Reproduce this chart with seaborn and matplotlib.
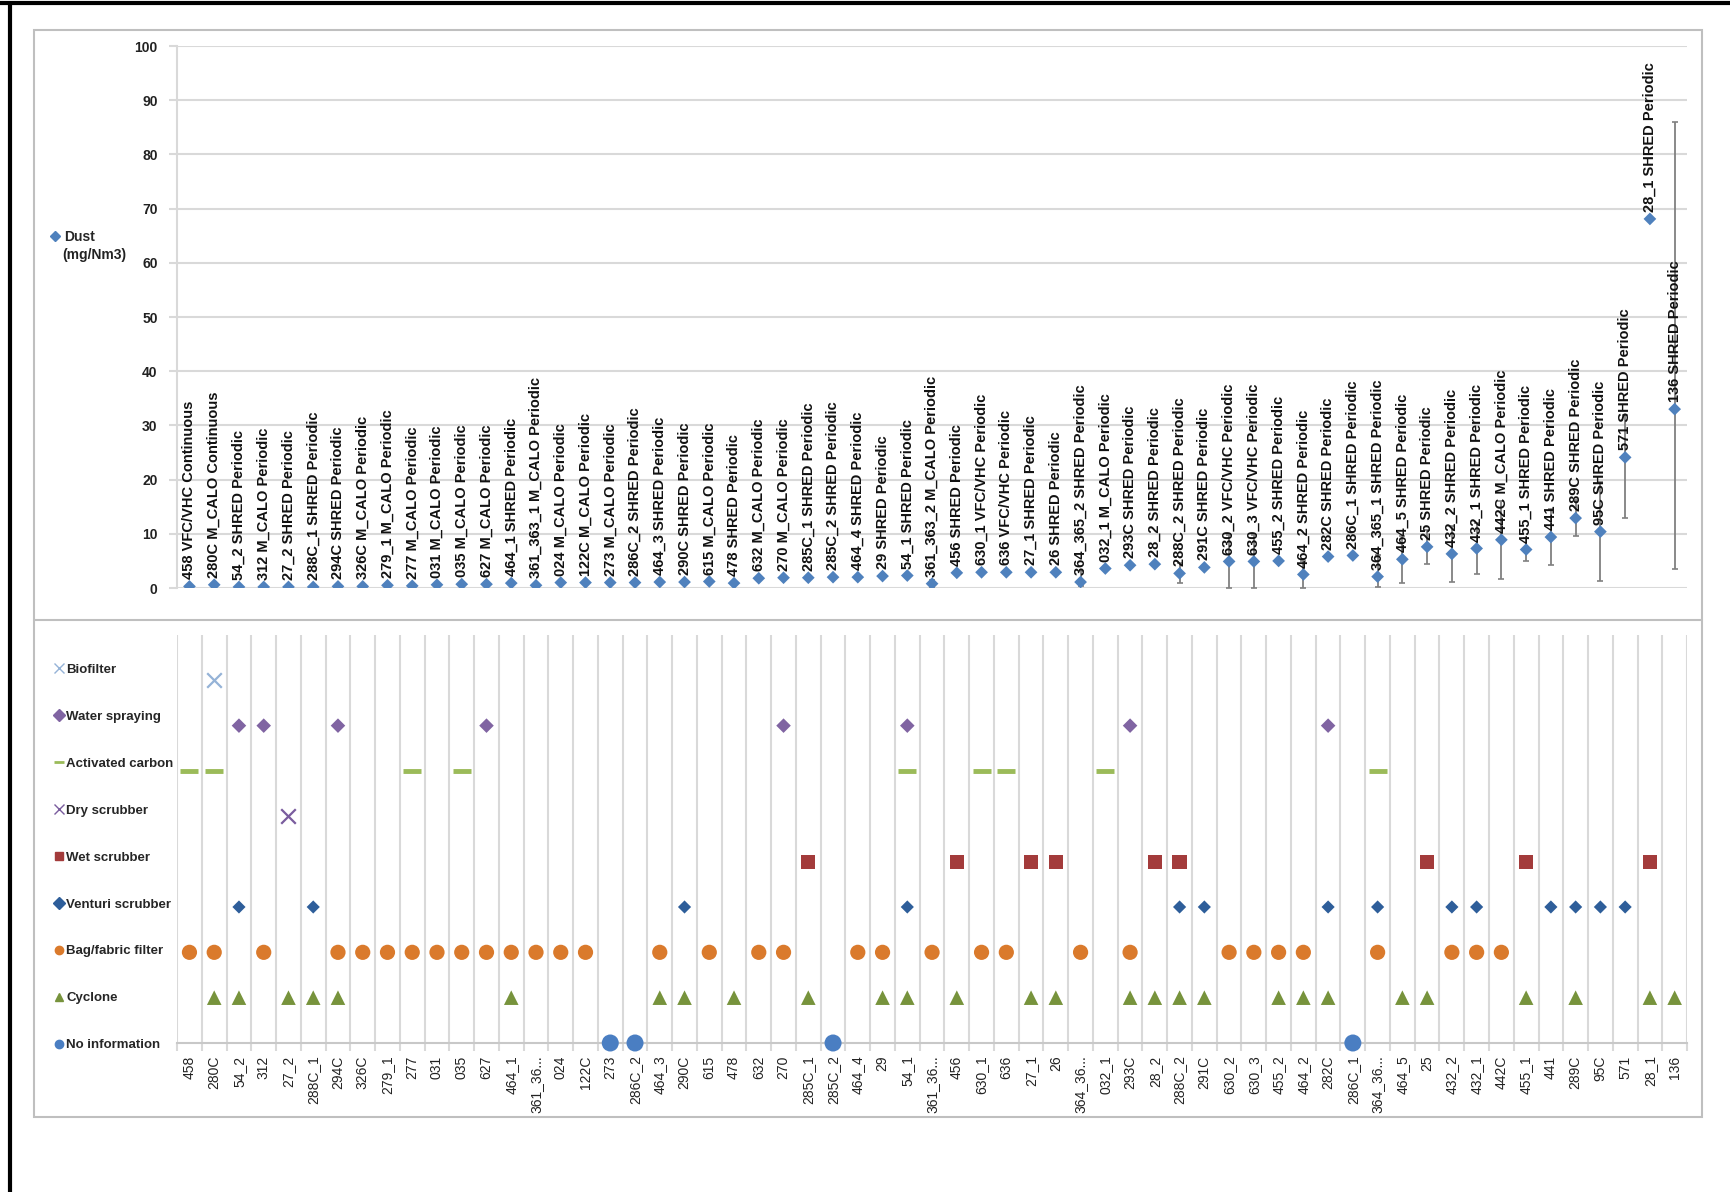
import numpy as np
import pandas as pd
import seaborn as sns
import matplotlib.pyplot as plt
from matplotlib.lines import Line2D
from matplotlib.patches import Rectangle

# ---- data ----
sites = ['458', '280C', '54_2', '312', '27_2', '288C_1', '294C', '326C', '279_1', '277',
         '031', '035', '627', '464_1', '361_363_1', '024', '122C', '273', '286C_2', '464_3',
         '290C', '615', '478', '632', '270', '285C_1', '285C_2', '464_4', '29', '54_1',
         '361_363_2', '456', '630_1', '636', '27_1', '26', '364_365_2', '032_1', '293C', '28_2',
         '288C_2', '291C', '630_2', '630_3', '455_2', '464_2', '282C', '286C_1', '364_365_1', '464_5',
         '25', '432_2', '432_1', '442C', '455_1', '441', '289C', '95C', '571', '28_1', '136']
processes = ['VFC/VHC', 'M_CALO', 'SHRED', 'M_CALO', 'SHRED', 'SHRED', 'SHRED', 'M_CALO', 'M_CALO', 'M_CALO',
             'M_CALO', 'M_CALO', 'M_CALO', 'SHRED', 'M_CALO', 'M_CALO', 'M_CALO', 'M_CALO', 'SHRED', 'SHRED',
             'SHRED', 'M_CALO', 'SHRED', 'M_CALO', 'M_CALO', 'SHRED', 'SHRED', 'SHRED', 'SHRED', 'SHRED',
             'M_CALO', 'SHRED', 'VFC/VHC', 'VFC/VHC', 'SHRED', 'SHRED', 'SHRED', 'M_CALO', 'SHRED', 'SHRED',
             'SHRED', 'SHRED', 'VFC/VHC', 'VFC/VHC', 'SHRED', 'SHRED', 'SHRED', 'SHRED', 'SHRED', 'SHRED',
             'SHRED', 'SHRED', 'SHRED', 'M_CALO', 'SHRED', 'SHRED', 'SHRED', 'SHRED', 'SHRED', 'SHRED', 'SHRED']
modes = ['Continuous', 'Continuous'] + ['Periodic'] * 59
tick_labels = [s if len(s) <= 7 else s[:6] + '...' for s in sites]

dust = [0.3, 0.6, 0.2, 0.2, 0.2, 0.2, 0.3, 0.3, 0.5, 0.4,
        0.6, 0.7, 0.7, 0.9, 0.5, 1.0, 1.0, 1.0, 1.0, 1.1,
        1.1, 1.2, 0.9, 1.8, 1.9, 1.9, 2.0, 2.0, 2.2, 2.3,
        0.8, 2.8, 2.9, 2.9, 2.9, 2.9, 1.1, 3.6, 4.2, 4.4,
        2.7, 3.8, 4.9, 4.9, 5.0, 2.5, 5.8, 6.0, 2.1, 5.3,
        7.6, 6.3, 7.3, 8.9, 7.1, 9.4, 12.9, 10.4, 24.1, 68.1, 33.0]
nan = np.nan
dust_min = [nan] * 30 + [0.2, nan, nan, nan, nan, nan, 0.4, nan, nan, nan,
                         1.0, nan, 0.0, 0.0, nan, 0.0, nan, nan, 0.1, 1.0,
                         4.5, 1.2, 2.6, 1.7, 5.0, 4.3, 9.6, 1.3, 12.9, nan, 3.6]
dust_max = [nan] * 30 + [1.5, nan, nan, nan, nan, nan, 3.2, nan, nan, nan,
                         4.6, nan, 9.8, 9.8, nan, 5.0, nan, nan, 6.0, 9.6,
                         10.7, 11.4, 12.0, 16.1, 9.2, 14.5, 16.2, 19.5, 32.0, nan, 86.0]

biofilter = ['280C']
water_spraying = ['54_2', '312', '294C', '627', '270', '54_1', '293C', '282C']
activated_carbon = ['458', '280C', '277', '035', '54_1', '630_1', '636', '032_1', '364_365_1']
dry_scrubber = ['27_2']
wet_scrubber = ['285C_1', '456', '27_1', '26', '28_2', '288C_2', '25', '455_1', '28_1']
venturi_scrubber = ['54_2', '288C_1', '290C', '54_1', '288C_2', '291C', '282C', '364_365_1',
                    '432_2', '432_1', '441', '289C', '95C', '571']
bag_filter = ['458', '280C', '312', '294C', '326C', '279_1', '277', '031', '035', '627', '464_1',
              '361_363_1', '024', '122C', '464_3', '615', '632', '270', '464_4', '29', '361_363_2',
              '630_1', '636', '364_365_2', '293C', '630_2', '630_3', '455_2', '464_2', '364_365_1',
              '432_2', '432_1', '442C']
cyclone = ['280C', '54_2', '27_2', '288C_1', '294C', '464_1', '464_3', '290C', '478', '285C_1', '29',
           '54_1', '456', '27_1', '26', '293C', '28_2', '288C_2', '291C', '455_2', '464_2', '282C',
           '464_5', '25', '455_1', '289C', '28_1', '136']
no_information = ['273', '286C_2', '285C_2', '286C_1']

# (name, sites, marker, color, size, linewidth) -- top row first
treatments = [
    ('Biofilter', biofilter, 'x', '#95B3D7', 110, 1.6),
    ('Water spraying', water_spraying, 'D', '#8064A2', 55, 0),
    ('Activated carbon', activated_carbon, '_', '#9BBB59', 150, 3.5),
    ('Dry scrubber', dry_scrubber, 'x', '#7A5C9E', 110, 1.6),
    ('Wet scrubber', wet_scrubber, 's', '#A33B3B', 105, 0),
    ('Venturi scrubber', venturi_scrubber, 'D', '#2E5E9A', 45, 0),
    ('Bag/fabric filter', bag_filter, 'o', '#DA7A2C', 120, 0),
    ('Cyclone', cyclone, '^', '#77933C', 110, 0),
    ('No information', no_information, 'o', '#4A7EC2', 150, 0),
]

# ---- figure ----
sns.set_style('white')
plt.rcParams['font.family'] = ['Liberation Sans', 'DejaVu Sans']

fig = plt.figure(figsize=(17.31, 11.92), dpi=100)
ax1 = fig.add_axes([0.1023, 0.5067, 0.8723, 0.4547])
ax2 = fig.add_axes([0.1023, 0.125, 0.8723, 0.3423])

x = np.arange(len(sites))
df = pd.DataFrame({'x': x, 'dust': dust, 'lo': dust_min, 'hi': dust_max,
                   'label': [f'{s} {p} {m}' for s, p, m in zip(sites, processes, modes)]})

# top panel: dust with min/max bars and point labels
eb = df.dropna(subset=['lo'])
ax1.errorbar(eb['x'], eb['dust'], yerr=[eb['dust'] - eb['lo'], eb['hi'] - eb['dust']],
             fmt='none', ecolor='#808080', elinewidth=1.3, capsize=2.5, capthick=1.2, zorder=2)
sns.scatterplot(data=df, x='x', y='dust', marker='D', s=42, color='#4F81BD',
                edgecolor='none', ax=ax1, zorder=3, legend=False)
for _, r in df.iterrows():
    ax1.annotate(r['label'], (r['x'], r['dust']), xytext=(0, 5), textcoords='offset points',
                 rotation=90, ha='center', va='bottom', fontsize=10.5, fontweight='bold',
                 color='#111111', zorder=4)

ax1.set_xlim(-0.5, len(sites) - 0.5)
ax1.set_ylim(0, 100)
ax1.set_yticks(range(0, 101, 10))
ax1.set_xticks([])
ax1.set_xlabel('')
ax1.set_ylabel('')
ax1.yaxis.grid(True, color='#D9D9D9', lw=1.5)
for s in ['top', 'right', 'bottom']:
    ax1.spines[s].set_visible(False)
ax1.spines['left'].set_color('#D9D9D9')
ax1.spines['left'].set_linewidth(1.5)
ax1.tick_params(axis='y', left=True, length=6, color='#D9D9D9', width=1.5,
                labelsize=10, pad=8, labelcolor='#222222')
for t in ax1.get_yticklabels():
    t.set_fontweight('bold')

dust_handle = Line2D([], [], marker='D', color='#4F81BD', linestyle='', markersize=5)
fig.legend([dust_handle], ['Dust'], loc='upper left', bbox_to_anchor=(0.025, 0.8128),
           frameon=False, handlelength=0.7, handletextpad=0.3, borderpad=0,
           prop={'size': 10, 'weight': 'bold'})
fig.text(0.0358, 0.786, '(mg/Nm3)', ha='left', va='center', fontsize=10,
         fontweight='bold', color='#222222')

# bottom panel: treatment matrix
rows = []
n_rows = len(treatments)
for k, (name, members, mk, col, sz, lw) in enumerate(treatments):
    for s in members:
        rows.append({'x': sites.index(s), 'row': n_rows - 1 - k, 'treatment': name})
tdf = pd.DataFrame(rows)

handles = []
for k, (name, members, mk, col, sz, lw) in enumerate(treatments):
    sub = tdf[tdf['treatment'] == name]
    kw = dict(linewidth=lw) if lw else dict(edgecolor='none')
    sns.scatterplot(data=sub, x='x', y='row', marker=mk, s=sz, color=col, ax=ax2,
                    clip_on=False, zorder=3, legend=False, **kw)
    handles.append(Line2D([], [], marker=mk, color=col, linestyle='',
                          markersize=6 if mk not in ('_', 'x') else 7,
                          markeredgewidth=2 if mk == '_' else 1))

ax2.set_xlim(-0.5, len(sites) - 0.5)
ax2.set_ylim(0, n_rows)
ax2.set_yticks([])
ax2.set_xlabel('')
ax2.set_ylabel('')
ax2.set_xticks(x)
ax2.set_xticklabels(tick_labels, rotation=90, fontsize=10, color='#222222')
ax2.set_xticks(np.arange(-0.5, len(sites), 1), minor=True)
ax2.tick_params(axis='x', which='major', length=0, pad=9)
ax2.tick_params(axis='x', which='minor', bottom=True, length=6, color='#D9D9D9', width=1.5)
ax2.grid(which='minor', axis='x', color='#D9D9D9', lw=1.5)
for s in ['top', 'right', 'left']:
    ax2.spines[s].set_visible(False)
ax2.spines['bottom'].set_color('#C8C8C8')
ax2.spines['bottom'].set_linewidth(1.5)

ax2.legend(handles, [t[0] for t in treatments], loc='upper left', bbox_to_anchor=(0.028, 0.4488),
           bbox_transform=fig.transFigure, frameon=False, handlelength=0.6, handletextpad=0.25,
           labelspacing=2.63, borderpad=0, prop={'size': 9.5, 'weight': 'bold'})

# frames
fig.add_artist(Rectangle((0.0196, 0.0629), 0.9636, 0.9119, transform=fig.transFigure,
                         fill=False, ec='#BFBFBF', lw=1.5))
fig.add_artist(Line2D([0.0196, 0.9832], [0.4799, 0.4799], transform=fig.transFigure,
                      color='#BFBFBF', lw=1.5))
fig.add_artist(Line2D([0, 1], [0.9975, 0.9975], transform=fig.transFigure, color='black', lw=3))
fig.add_artist(Line2D([0.0058, 0.0058], [0, 0.9975], transform=fig.transFigure, color='black', lw=3))

fig.savefig('out.png', dpi=100)
